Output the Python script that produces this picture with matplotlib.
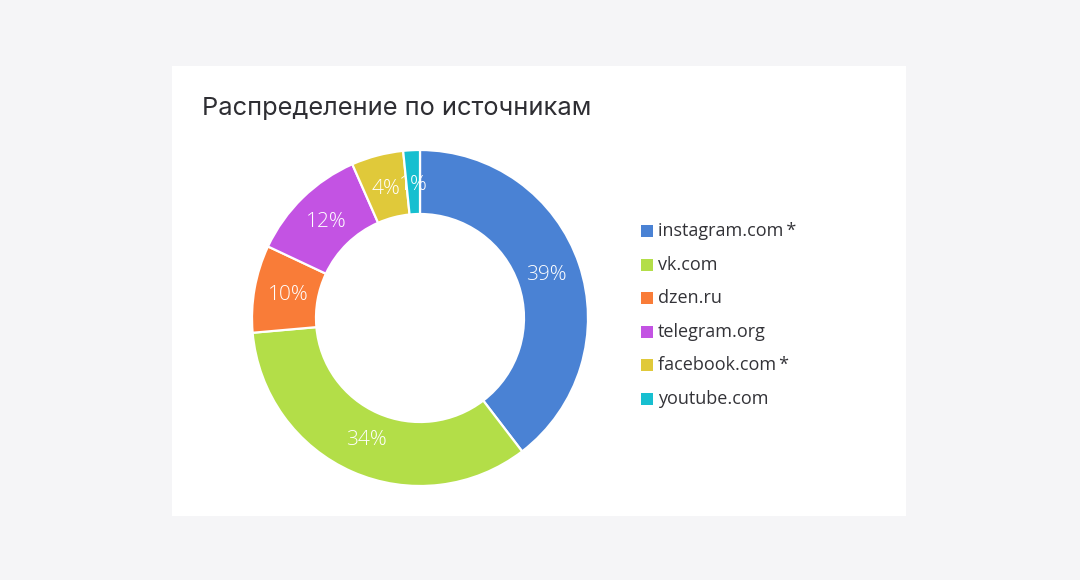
import numpy as np
import matplotlib.pyplot as plt
from matplotlib.patches import Rectangle

sources = ['instagram.com\u2009*', 'vk.com', 'dzen.ru', 'telegram.org', 'facebook.com\u2009*', 'youtube.com']
shares = [39.6, 34.0, 8.4, 11.4, 5.0, 1.6]
pct_labels = ['39%', '34%', '10%', '12%', '4%', '1%']
colors = ['#4a82d4', '#b3de48', '#f97c38', '#c353e3', '#e0c93a', '#17bfd0']

W, H = 1080, 580
fig = plt.figure(figsize=(W / 100, H / 100), dpi=100, facecolor='#f5f5f7')

# white card
fig.patches.append(Rectangle((172 / W, 1 - 516 / H), (906 - 172) / W, (516 - 66) / H,
                             transform=fig.transFigure, facecolor='white',
                             edgecolor='none', zorder=-1))

fig.text(202 / W, 1 - 108 / H, 'Распределение по источникам', fontsize=18.3,
         color='#2e2e33', family=['Inter', 'DejaVu Sans'], va='center', ha='left')

# donut
cx, cy, r_out, r_in = 420, 318, 168, 104
box = 172
ax = fig.add_axes([(cx - box) / W, 1 - (cy + box) / H, 2 * box / W, 2 * box / H])
ax.set_zorder(2)
ax.pie(shares, colors=colors, startangle=90, counterclock=False, radius=1,
       wedgeprops=dict(width=1 - r_in / r_out, edgecolor='white', linewidth=1.6))
ax.set_xlim(-box / r_out, box / r_out)
ax.set_ylim(-box / r_out, box / r_out)
ax.set_aspect('equal')
ax.axis('off')

cum = np.cumsum([0] + shares)
total = cum[-1]
r_lab = 0.795
for i, lab in enumerate(pct_labels):
    mid = (cum[i] + cum[i + 1]) / 2 / total
    ang = np.deg2rad(90 - 360 * mid)
    ax.text(r_lab * np.cos(ang), r_lab * np.sin(ang), lab, color='white',
            fontsize=15, ha='center', va='center', fontweight='light',
            family=['Open Sans', 'DejaVu Sans'])

# legend
y0, step = 231, 33.6
for i, (name, c) in enumerate(zip(sources, colors)):
    y = y0 + i * step
    fig.patches.append(Rectangle((641 / W, 1 - (y + 6) / H), 12 / W, 12 / H,
                                 transform=fig.transFigure, facecolor=c,
                                 edgecolor='none', zorder=3))
    fig.text(658 / W, 1 - y / H, name, fontsize=13, color='#333338',
             family=['Open Sans', 'DejaVu Sans'], va='center', ha='left')

fig.savefig('out.png', dpi=100, facecolor=fig.get_facecolor())
